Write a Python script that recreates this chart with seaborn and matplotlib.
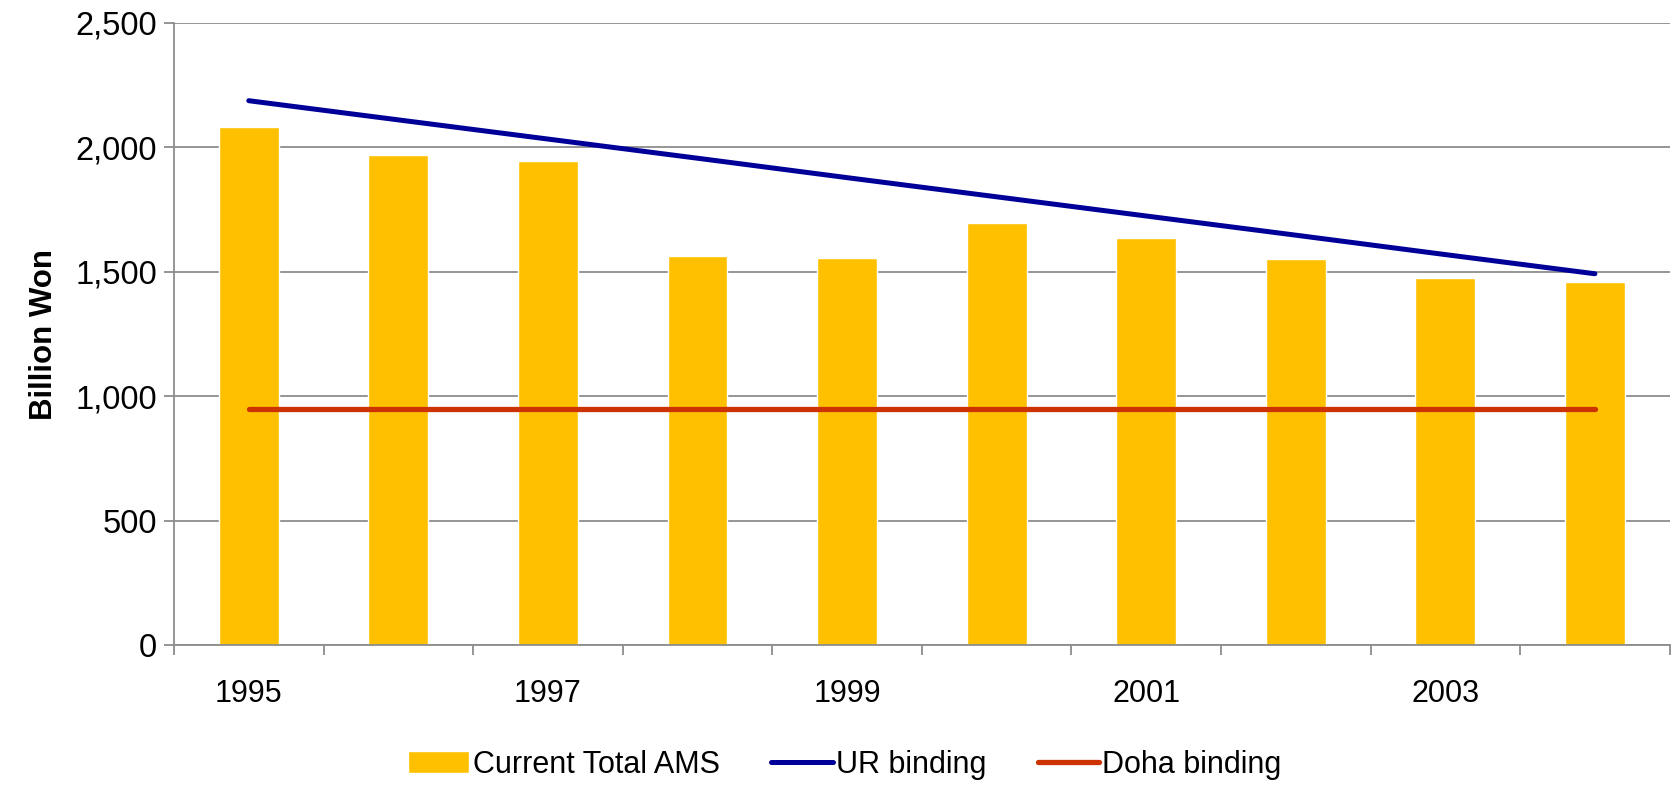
import numpy as np
import pandas as pd
import matplotlib
matplotlib.use("Agg")
import matplotlib.pyplot as plt
import seaborn as sns

# %% data

years = ["1995", "1996", "1997", "1998", "1999", "2000", "2001", "2002", "2003", "2004"]
current_ams = [2080, 1968, 1943, 1565, 1557, 1694, 1634, 1552, 1475, 1458]
ur_binding = [2187, 2110, 2033, 1956, 1878, 1801, 1724, 1647, 1569, 1492]
doha_binding = [948, 948, 948, 948, 948, 948, 948, 948, 948, 948]

df = pd.DataFrame({"year": years, "ams": current_ams,
                   "ur": ur_binding, "doha": doha_binding})
df["pos"] = np.arange(len(years))

# %% plot

sns.set_style("white")
plt.rcParams["font.family"] = ["Liberation Sans", "DejaVu Sans"]
plt.rcParams["text.color"] = "black"
plt.rcParams["xtick.labelcolor"] = "black"
plt.rcParams["ytick.labelcolor"] = "black"
plt.rcParams["axes.labelcolor"] = "black"

fig = plt.figure(figsize=(16.73, 7.85), dpi=100)
ax = fig.add_axes([0.104, 0.178, 0.894, 0.793])

sns.barplot(data=df, x="year", y="ams", color="#FFC000", width=0.4,
            saturation=1, ax=ax, label="Current Total AMS", zorder=2)
sns.lineplot(data=df, x="pos", y="ur", color="#000099", linewidth=3.6,
             ax=ax, label="UR binding", zorder=3, solid_capstyle="round")
sns.lineplot(data=df, x="pos", y="doha", color="#CC3300", linewidth=3.8,
             ax=ax, label="Doha binding", zorder=3, solid_capstyle="round")

ax.set_ylim(0, 2500)
ax.set_xlim(-0.5, 9.5)
ax.set_yticks(np.arange(0, 2501, 500))
ax.set_yticklabels([f"{v:,}" for v in range(0, 2501, 500)], fontsize=23.5)
ax.yaxis.grid(True, color="#8c8c8c", linewidth=1.3, zorder=0)
ax.set_axisbelow(True)

# labels on every other year, tick marks on category boundaries
ax.set_xticks([0, 2, 4, 6, 8])
ax.set_xticklabels(["1995", "1997", "1999", "2001", "2003"], fontsize=22)
ax.set_xticks(np.arange(-0.5, 10, 1), minor=True)
ax.tick_params(axis="x", which="major", length=0, pad=24)
ax.tick_params(axis="x", which="minor", length=7, width=1.3, color="#8c8c8c",
               direction="out", bottom=True)
ax.tick_params(axis="y", length=7, width=1.3, color="#8c8c8c",
               direction="out", left=True, pad=5)

ax.set_xlabel("")
ax.set_ylabel("Billion Won", fontsize=22.5, fontweight="bold", labelpad=12)

for side in ["top", "right"]:
    ax.spines[side].set_visible(False)
for side in ["left", "bottom"]:
    ax.spines[side].set_color("#8c8c8c")
    ax.spines[side].set_linewidth(1.3)

handles, labels = ax.get_legend_handles_labels()
order = [labels.index(n) for n in ["Current Total AMS", "UR binding", "Doha binding"]]
if ax.legend_:
    ax.legend_.remove()
fig.legend([handles[i] for i in order], [labels[i] for i in order],
           loc="center", bbox_to_anchor=(0.505, 0.026), ncol=3,
           frameon=False, fontsize=22, handlelength=2.0, handletextpad=0.1,
           columnspacing=1.7)

fig.savefig("out.png", dpi=100)
